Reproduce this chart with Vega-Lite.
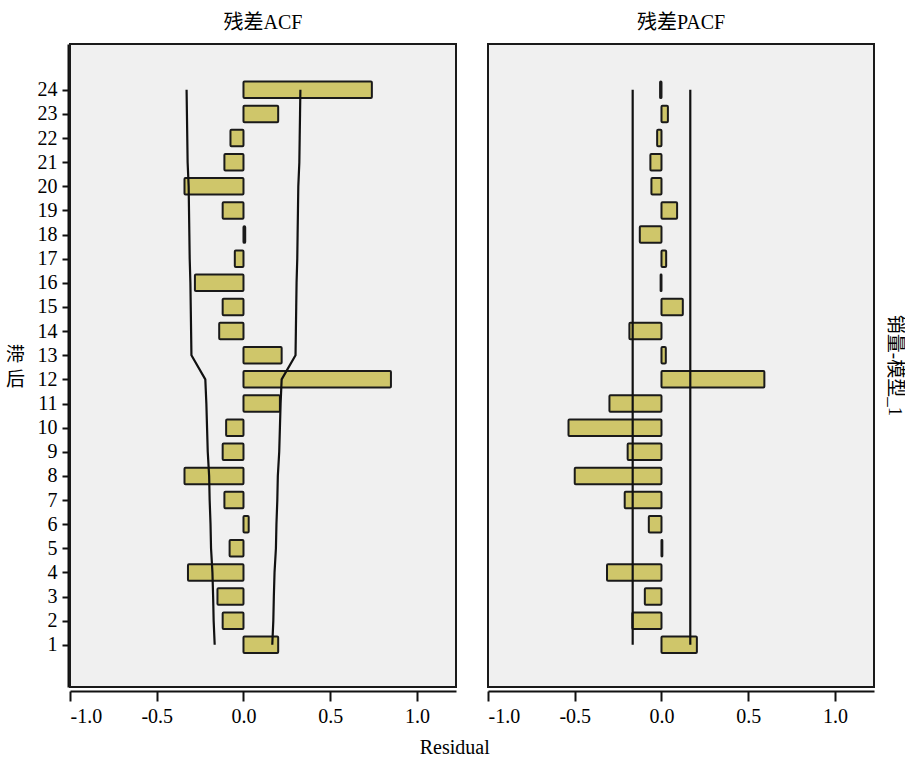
{
  "$schema": "https://vega.github.io/schema/vega-lite/v6.json",
  "padding": {"left": 5, "right": 1, "top": 13, "bottom": 5},
  "data": {"values": [
    {"panel":"残差ACF","model":"销量-模型_1","lag":1,"value":0.20,"upper":0.166,"lower":-0.166},
    {"panel":"残差ACF","model":"销量-模型_1","lag":2,"value":-0.12,"upper":0.172,"lower":-0.172},
    {"panel":"残差ACF","model":"销量-模型_1","lag":3,"value":-0.15,"upper":0.175,"lower":-0.175},
    {"panel":"残差ACF","model":"销量-模型_1","lag":4,"value":-0.32,"upper":0.179,"lower":-0.179},
    {"panel":"残差ACF","model":"销量-模型_1","lag":5,"value":-0.08,"upper":0.187,"lower":-0.187},
    {"panel":"残差ACF","model":"销量-模型_1","lag":6,"value":0.03,"upper":0.190,"lower":-0.190},
    {"panel":"残差ACF","model":"销量-模型_1","lag":7,"value":-0.11,"upper":0.195,"lower":-0.195},
    {"panel":"残差ACF","model":"销量-模型_1","lag":8,"value":-0.34,"upper":0.198,"lower":-0.198},
    {"panel":"残差ACF","model":"销量-模型_1","lag":9,"value":-0.12,"upper":0.206,"lower":-0.206},
    {"panel":"残差ACF","model":"销量-模型_1","lag":10,"value":-0.10,"upper":0.210,"lower":-0.210},
    {"panel":"残差ACF","model":"销量-模型_1","lag":11,"value":0.21,"upper":0.214,"lower":-0.214},
    {"panel":"残差ACF","model":"销量-模型_1","lag":12,"value":0.85,"upper":0.220,"lower":-0.220},
    {"panel":"残差ACF","model":"销量-模型_1","lag":13,"value":0.22,"upper":0.300,"lower":-0.300},
    {"panel":"残差ACF","model":"销量-模型_1","lag":14,"value":-0.14,"upper":0.302,"lower":-0.302},
    {"panel":"残差ACF","model":"销量-模型_1","lag":15,"value":-0.12,"upper":0.304,"lower":-0.304},
    {"panel":"残差ACF","model":"销量-模型_1","lag":16,"value":-0.28,"upper":0.306,"lower":-0.306},
    {"panel":"残差ACF","model":"销量-模型_1","lag":17,"value":-0.05,"upper":0.310,"lower":-0.310},
    {"panel":"残差ACF","model":"销量-模型_1","lag":18,"value":0.01,"upper":0.312,"lower":-0.312},
    {"panel":"残差ACF","model":"销量-模型_1","lag":19,"value":-0.12,"upper":0.314,"lower":-0.314},
    {"panel":"残差ACF","model":"销量-模型_1","lag":20,"value":-0.34,"upper":0.316,"lower":-0.316},
    {"panel":"残差ACF","model":"销量-模型_1","lag":21,"value":-0.11,"upper":0.322,"lower":-0.322},
    {"panel":"残差ACF","model":"销量-模型_1","lag":22,"value":-0.075,"upper":0.324,"lower":-0.324},
    {"panel":"残差ACF","model":"销量-模型_1","lag":23,"value":0.20,"upper":0.326,"lower":-0.326},
    {"panel":"残差ACF","model":"销量-模型_1","lag":24,"value":0.74,"upper":0.328,"lower":-0.328},
    {"panel":"残差PACF","model":"销量-模型_1","lag":1,"value":0.204,"upper":0.166,"lower":-0.166},
    {"panel":"残差PACF","model":"销量-模型_1","lag":2,"value":-0.168,"upper":0.166,"lower":-0.166},
    {"panel":"残差PACF","model":"销量-模型_1","lag":3,"value":-0.096,"upper":0.166,"lower":-0.166},
    {"panel":"残差PACF","model":"销量-模型_1","lag":4,"value":-0.314,"upper":0.166,"lower":-0.166},
    {"panel":"残差PACF","model":"销量-模型_1","lag":5,"value":0.005,"upper":0.166,"lower":-0.166},
    {"panel":"残差PACF","model":"销量-模型_1","lag":6,"value":-0.073,"upper":0.166,"lower":-0.166},
    {"panel":"残差PACF","model":"销量-模型_1","lag":7,"value":-0.212,"upper":0.166,"lower":-0.166},
    {"panel":"残差PACF","model":"销量-模型_1","lag":8,"value":-0.50,"upper":0.166,"lower":-0.166},
    {"panel":"残差PACF","model":"销量-模型_1","lag":9,"value":-0.195,"upper":0.166,"lower":-0.166},
    {"panel":"残差PACF","model":"销量-模型_1","lag":10,"value":-0.536,"upper":0.166,"lower":-0.166},
    {"panel":"残差PACF","model":"销量-模型_1","lag":11,"value":-0.30,"upper":0.166,"lower":-0.166},
    {"panel":"残差PACF","model":"销量-模型_1","lag":12,"value":0.593,"upper":0.166,"lower":-0.166},
    {"panel":"残差PACF","model":"销量-模型_1","lag":13,"value":0.025,"upper":0.166,"lower":-0.166},
    {"panel":"残差PACF","model":"销量-模型_1","lag":14,"value":-0.185,"upper":0.166,"lower":-0.166},
    {"panel":"残差PACF","model":"销量-模型_1","lag":15,"value":0.123,"upper":0.166,"lower":-0.166},
    {"panel":"残差PACF","model":"销量-模型_1","lag":16,"value":-0.005,"upper":0.166,"lower":-0.166},
    {"panel":"残差PACF","model":"销量-模型_1","lag":17,"value":0.027,"upper":0.166,"lower":-0.166},
    {"panel":"残差PACF","model":"销量-模型_1","lag":18,"value":-0.125,"upper":0.166,"lower":-0.166},
    {"panel":"残差PACF","model":"销量-模型_1","lag":19,"value":0.09,"upper":0.166,"lower":-0.166},
    {"panel":"残差PACF","model":"销量-模型_1","lag":20,"value":-0.058,"upper":0.166,"lower":-0.166},
    {"panel":"残差PACF","model":"销量-模型_1","lag":21,"value":-0.064,"upper":0.166,"lower":-0.166},
    {"panel":"残差PACF","model":"销量-模型_1","lag":22,"value":-0.025,"upper":0.166,"lower":-0.166},
    {"panel":"残差PACF","model":"销量-模型_1","lag":23,"value":0.037,"upper":0.166,"lower":-0.166},
    {"panel":"残差PACF","model":"销量-模型_1","lag":24,"value":-0.008,"upper":0.166,"lower":-0.166}
  ]},
  "title": {"text": "Residual", "orient": "bottom", "anchor": "middle", "fontSize": 20, "font": "Liberation Serif", "fontWeight": "normal", "color": "#000", "offset": 12},
  "facet": {
    "column": {"field": "panel", "type": "nominal", "sort": ["残差ACF", "残差PACF"],
      "header": {"title": null, "labelFontSize": 20, "labelFont": "Liberation Serif, Noto Sans CJK SC", "labelColor": "#000", "labelPadding": 10}},
    "row": {"field": "model", "type": "nominal",
      "header": {"title": null, "labelOrient": "right", "labelAngle": 90, "labelAlign": "center", "labelBaseline": "middle", "labelFontSize": 19, "labelFont": "Liberation Serif, Noto Sans CJK SC", "labelColor": "#000", "labelPadding": 1}}
  },
  "spacing": {"column": 30, "row": 0},
  "spec": {
    "width": 386,
    "height": 643,
    "layer": [
      {
        "mark": {"type": "bar", "orient": "horizontal", "size": 16.5, "fill": "#cfc66a", "stroke": "#1a1a1a", "strokeWidth": 2, "cornerRadius": 1},
        "encoding": {
          "x": {"field": "value", "type": "quantitative",
            "scale": {"domain": [-1, 1.225], "nice": false, "zero": false, "padding": 0},
            "axis": {"values": [-1, -0.5, 0, 0.5, 1], "tickCount": 10, "labelExpr": "datum.value < 0 ? '-' + format(-datum.value, '.1f') : format(datum.value, '.1f')", "title": null}},
          "x2": {"datum": 0},
          "y": {"field": "lag", "type": "quantitative",
            "scale": {"domain": [-0.75, 25.9], "nice": false, "zero": false, "padding": 0},
            "axis": {"values": [1,2,3,4,5,6,7,8,9,10,11,12,13,14,15,16,17,18,19,20,21,22,23,24], "tickCount": 40, "format": "d", "labelOverlap": false, "title": ["滞", "后"], "titleAngle": 0, "titleAlign": "center", "titleBaseline": "top", "titleX": -53, "titleY": 301, "titleLineHeight": 25}}
        }
      },
      {
        "mark": {"type": "line", "stroke": "#111", "strokeWidth": 2.2},
        "encoding": {
          "x": {"field": "upper", "type": "quantitative"},
          "y": {"field": "lag", "type": "quantitative"},
          "order": {"field": "lag", "type": "quantitative"}
        }
      },
      {
        "mark": {"type": "line", "stroke": "#111", "strokeWidth": 2.2},
        "encoding": {
          "x": {"field": "lower", "type": "quantitative"},
          "y": {"field": "lag", "type": "quantitative"},
          "order": {"field": "lag", "type": "quantitative"}
        }
      }
    ]
  },
  "config": {
    "view": {"fill": "#f0f0f0", "stroke": "#1a1a1a", "strokeWidth": 2},
    "axis": {"grid": false, "domainColor": "#111", "domainWidth": 2, "tickColor": "#111", "tickWidth": 2, "labelFont": "Liberation Serif", "labelFontSize": 20, "labelColor": "#000", "labelOverlap": false, "titleFont": "Noto Sans CJK SC", "titleFontSize": 19, "titleFontWeight": "normal", "titleColor": "#000"},
    "axisX": {"tickSize": 10, "labelPadding": 5, "offset": 3},
    "axisY": {"tickSize": 6, "labelPadding": 5, "offset": 1}
  }
}
